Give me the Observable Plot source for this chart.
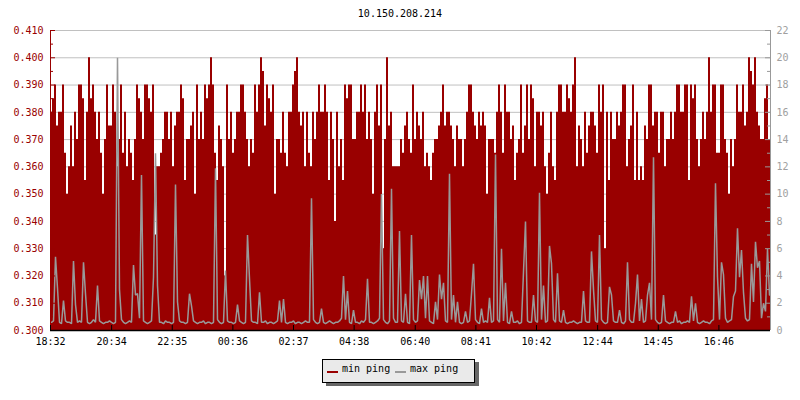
<!DOCTYPE html>
<html><head><meta charset="utf-8">
<script src="https://cdn.jsdelivr.net/npm/d3@7"></script>
<script src="https://cdn.jsdelivr.net/npm/@observablehq/plot@0.6"></script>
<style>
body{margin:0;background:#fff;font-family:"DejaVu Sans Mono",monospace;}
#wrap{position:relative;width:800px;height:400px;overflow:hidden;}
#title{position:absolute;left:0;top:8px;width:800px;text-align:center;font-size:10px;line-height:12px;color:#000;}
#legend{position:absolute;left:322px;top:359px;width:151px;height:22px;background:#eaeaea;border:1px solid #000;box-shadow:4px 3px 0 #666;font-size:10px;line-height:12px;}
.sw{position:absolute;top:11px;width:11px;height:2px;}
.lt{position:absolute;top:3px;white-space:nowrap;color:#000;}
#chart{position:absolute;left:0;top:0;}
</style></head>
<body>
<div id="wrap">
  <div id="chart"></div>
  <div id="title"></div>
  <div id="legend"></div>
</div>
<script>
const chartTitle = "10.150.208.214";
const seriesNames = ["min ping", "max ping"];
const seriesColors = ["#990000", "#999999"];
const spanMinutes = 1437; // 18:32 .. 18:29 next day
const xTickLabels = ["18:32","20:34","22:35","00:36","02:37","04:38","06:40","08:41","10:42","12:44","14:45","16:46"];
const leftTickValues = [0.300,0.310,0.320,0.330,0.340,0.350,0.360,0.370,0.380,0.390,0.400,0.410];
const rightTickValues = [0,2,4,6,8,10,12,14,16,18,20,22];

const minPing = [
.38,.385,.39,.375,.38,.38,.39,.365,.35,.36,
.375,.36,.38,.37,.39,.39,.385,.355,.38,.4,
.385,.39,.38,.37,.38,.365,.35,.37,.39,.375,
.375,.39,.38,.36,.37,.39,.365,.38,.36,.37,
.365,.355,.37,.39,.385,.38,.37,.39,.39,.385,
.38,.39,.335,.36,.36,.365,.37,.38,.38,.37,
.38,.36,.375,.38,.38,.39,.385,.355,.37,.37,
.375,.38,.35,.39,.37,.38,.37,.39,.385,.39,
.4,.39,.365,.355,.375,.37,.36,.32,.39,.37,
.38,.365,.37,.38,.38,.39,.39,.38,.37,.36,
.37,.365,.39,.38,.39,.4,.395,.375,.39,.385,
.38,.39,.35,.37,.37,.365,.38,.365,.36,.38,
.38,.39,.395,.4,.38,.375,.38,.36,.38,.365,
.36,.38,.37,.38,.39,.38,.38,.39,.38,.355,
.38,.37,.34,.38,.36,.37,.355,.39,.385,.39,
.39,.37,.37,.38,.38,.39,.38,.39,.37,.38,
.37,.35,.38,.39,.375,.39,.33,.37,.4,.375,
.38,.36,.36,.36,.36,.37,.365,.375,.38,.37,
.365,.39,.37,.38,.375,.37,.38,.36,.365,.36,
.355,.365,.37,.37,.375,.38,.39,.375,.38,.38,
.375,.37,.36,.375,.37,.37,.36,.37,.38,.39,
.39,.38,.375,.37,.38,.375,.38,.375,.35,.37,
.37,.37,.365,.38,.39,.38,.365,.39,.38,.38,
.37,.375,.355,.365,.37,.39,.365,.375,.39,.37,
.39,.385,.36,.38,.38,.375,.38,.36,.35,.365,
.38,.36,.355,.38,.39,.39,.38,.38,.39,.385,
.38,.39,.4,.36,.375,.37,.36,.38,.365,.375,
.38,.38,.375,.365,.39,.38,.39,.33,.38,.355,
.38,.37,.37,.38,.375,.38,.39,.39,.36,.37,
.375,.39,.355,.38,.355,.36,.355,.375,.37,.39,
.39,.375,.38,.38,.365,.38,.38,.36,.37,.37,
.38,.37,.38,.39,.39,.38,.38,.39,.39,.355,
.39,.385,.39,.37,.36,.37,.38,.37,.38,.4,
.38,.39,.39,.365,.365,.39,.39,.37,.365,.35,
.37,.36,.37,.39,.38,.38,.39,.375,.38,.4,
.395,.39,.4,.38,.375,.37,.37,.385,.39,.37
];

const maxPing = [
.6,.7,5.4,3.1,.6,.5,2.2,.7,.6,.6,
.5,5.1,1.9,.6,.7,.6,5.0,2.7,.6,.5,
.6,.8,.6,3.3,.7,.6,.5,.6,.6,.7,
.6,.5,.6,20,3.0,.8,.6,.5,.6,.7,
.6,4.8,2.6,2.7,.9,11.4,.7,.6,.5,.6,
.7,3.9,13,3.3,.6,.6,.5,.7,.6,.6,
.5,.6,10.7,2.1,.7,.6,.6,.5,.6,2.7,
1.8,.7,.6,.5,.6,.6,.7,.5,.6,.6,
.5,.6,11.9,.8,.6,.5,.6,4.4,.7,.6,
.6,.5,.6,1.9,.7,.6,.5,.6,7,3.8,
.7,.6,.6,.5,2.8,.6,.6,.7,.5,.6,
.6,.5,.6,.7,2.2,.6,2.3,.6,.5,.6,
.6,.7,.5,.6,.6,.5,.6,.7,.6,.6,
9.7,.8,.6,.5,.6,1.6,.6,.5,.6,.7,
.6,.5,.6,.6,.7,.9,4.0,.8,2.9,.6,
.5,1.5,.6,.6,.5,.7,.6,.8,3.8,.6,
.6,.5,.6,.7,.9,10,.8,.6,.5,.7,
10.4,.9,.6,.6,7.3,.7,.6,2.7,.6,.5,
7,.8,.6,.7,3.7,2.3,4.0,.9,4.0,.7,
.6,.5,2.1,.8,4.1,2.3,3.5,.7,.6,11.5,
.8,2.6,.6,2.1,.6,.5,.6,1.4,.6,.7,
2.7,4.9,.8,.6,.5,1.6,.6,.7,.6,2.4,
.6,.7,12.9,.8,.6,6,.7,3.5,.6,.5,
1.4,.6,.6,.7,.5,.6,4.3,8,.7,.6,
.6,2.6,.7,.6,10.1,.8,3.3,.6,.7,6.2,
4.9,.8,.6,4.2,.7,.6,1.5,.6,.5,.6,
.6,.7,.6,.5,.6,.6,2.9,.7,.6,.6,
5.8,3.0,.7,.6,7,.8,.6,.5,.6,3.2,
2.6,.7,.6,.6,1.5,.6,.5,.7,5.0,.8,
.6,.6,2.0,4.1,.7,2.3,.6,.7,2.6,3.5,
.8,12.7,.8,.6,.5,.6,2.6,.7,.6,.5,
.6,.6,1.4,.6,.7,.5,.6,.6,.7,.6,
2.5,.7,2.0,.6,.5,.6,.7,.6,.6,.5,
.7,.8,10.8,3.9,.8,5.0,4.1,.9,.6,.7,
.8,2.5,2.9,7.5,3.9,5.9,2.8,.9,.7,.8,
4.9,2.1,6.5,4.6,5.1,.9,2.0,1.4,6.0,2.6
];

// ---- build tables ----
const dt = spanMinutes / minPing.length;
const minData = minPing.map((v, i) => ({t: i * dt, v}));
minData.push({t: spanMinutes, v: minPing[minPing.length - 1]});
const rightToLeft = d3.scaleLinear([rightTickValues[0], rightTickValues[rightTickValues.length - 1]],
                                   [leftTickValues[0], leftTickValues[leftTickValues.length - 1]]);
const maxData = maxPing.map((v, i) => ({t: (i + 0.5) * dt, y: rightToLeft(v)}));

function hm(s) { const [h, m] = s.split(":").map(Number); return h * 60 + m; }
const t0 = hm(xTickLabels[0]);
const xTickMinutes = xTickLabels.map(s => { let d = hm(s) - t0; if (d < 0) d += 1440; return d; });
const labelAt = new Map(xTickMinutes.map((m, i) => [m, xTickLabels[i]]));

const leftMinor = d3.pairs(leftTickValues).map(([a, b]) => (a + b) / 2);
const rightMajorY = rightTickValues.map(rightToLeft);
const rightMinorY = d3.pairs(rightMajorY).map(([a, b]) => (a + b) / 2);

const W = 800, H = 400, ML = 50, MR = 30, MT = 30, MB = 70;
const innerW = W - ML - MR, innerH = H - MT - MB;
const font = "DejaVu Sans Mono";

const chart = Plot.plot({
  width: W, height: H,
  marginLeft: ML, marginRight: MR, marginTop: MT, marginBottom: MB,
  style: {fontFamily: font, fontSize: "10px", background: "#fff", overflow: "visible"},
  x: {type: "linear", domain: [0, spanMinutes], axis: null},
  y: {type: "linear", domain: [leftTickValues[0], leftTickValues[leftTickValues.length - 1]], axis: null},
  marks: [
    Plot.ruleY(leftTickValues.slice(1), {stroke: "#c0c0c0"}),
    Plot.areaY(minData, {x: "t", y1: leftTickValues[0], y2: "v", curve: "step-after", fill: seriesColors[0]}),
    Plot.line(maxData, {x: "t", y: "y", curve: "linear", stroke: seriesColors[1], strokeWidth: 1.5, strokeLinejoin: "miter", clip: true}),
    Plot.ruleX([0], {stroke: seriesColors[0]}),
    Plot.ruleX([spanMinutes], {stroke: "#999999"}),
    Plot.ruleY(leftTickValues, {stroke: seriesColors[0], insetRight: innerW - 5}),
    Plot.ruleY(leftMinor, {stroke: seriesColors[0], insetRight: innerW - 3}),
    Plot.ruleY(rightMajorY, {stroke: "#999999", insetLeft: innerW - 5}),
    Plot.ruleY(rightMinorY, {stroke: "#999999", insetLeft: innerW - 3}),
    Plot.ruleY([leftTickValues[0]], {stroke: "#000", strokeWidth: 1.5}),
    Plot.ruleX(xTickMinutes, {stroke: "#000", insetTop: innerH - 5}),
    Plot.axisY(leftTickValues, {anchor: "left", tickSize: 0, tickPadding: 7, label: null,
      tickFormat: d3.format(".3f"), fill: seriesColors[0], fontSize: 10, fontFamily: font}),
    Plot.axisY(rightMajorY, {anchor: "right", tickSize: 0, tickPadding: 6, label: null,
      tickFormat: d => String(Math.round(rightToLeft.invert(d))), fill: "#a0a0a0", fontSize: 10, fontFamily: font}),
    Plot.axisX(xTickMinutes, {anchor: "bottom", tickSize: 0, tickPadding: 7, label: null,
      tickFormat: d => labelAt.get(d), fill: "#000", fontSize: 10, fontFamily: font})
  ]
});
document.getElementById("chart").appendChild(chart);
document.getElementById("title").textContent = chartTitle;

const legend = document.getElementById("legend");
const legendPos = [[4, 19], [72, 87]];
seriesNames.forEach((name, i) => {
  const sw = document.createElement("div");
  sw.className = "sw"; sw.style.left = legendPos[i][0] + "px"; sw.style.background = seriesColors[i];
  const lt = document.createElement("div");
  lt.className = "lt"; lt.style.left = legendPos[i][1] + "px"; lt.textContent = name;
  legend.appendChild(sw); legend.appendChild(lt);
});
</script>
</body></html>
